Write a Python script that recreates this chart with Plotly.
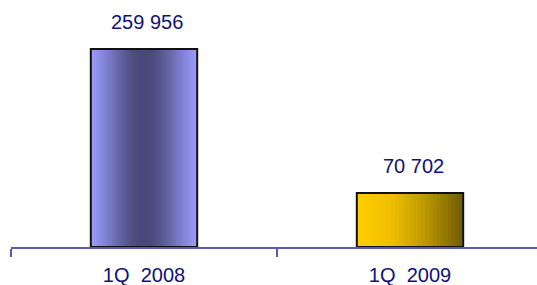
import plotly.graph_objects as go

# ---- data ----
categories = ["1Q 2008", "1Q 2009"]
tick_labels = ["1Q\u00a0\u00a02008", "1Q\u00a0\u00a02009"]
values = [259956, 70702]

# ---- styles ----
FONT = "Liberation Sans, Arial, sans-serif"
TEXT_COLOR = "#10107a"
AXIS_COLOR = "#5a5ab4"
BAR_W = 0.4
N_LAYERS = 28

xpos = list(range(len(categories)))


def hex2rgb(h):
    h = h.lstrip("#")
    return tuple(int(h[i:i + 2], 16) for i in (0, 2, 4))


def interp(stops, t):
    t = max(0.0, min(1.0, t))
    for (p0, c0), (p1, c1) in zip(stops, stops[1:]):
        if p0 <= t <= p1:
            u = 0 if p1 == p0 else (t - p0) / (p1 - p0)
            a, b = hex2rgb(c0), hex2rgb(c1)
            return "rgb(%d,%d,%d)" % tuple(round(a[i] + (b[i] - a[i]) * u) for i in range(3))
    return stops[-1][1]


# symmetric gradient (distance from centre: 0 centre, 1 edge)
grad_blue = [(0.0, "#47477a"), (0.2, "#4b4b7f"), (0.45, "#6262a2"),
             (0.75, "#8282d6"), (1.0, "#9a9cf8")]
# left-to-right gradient
grad_gold = [(0.0, "#ffcc00"), (0.3, "#f0c000"), (0.6, "#c09c00"),
             (0.85, "#8c7200"), (1.0, "#6a5a0c")]

fig = go.Figure()

for k in range(N_LAYERS):
    f = 1 - k / N_LAYERS
    widths = [BAR_W * f, BAR_W * f]
    offsets = [-BAR_W / 2 * f, BAR_W / 2 - BAR_W * f]
    colors = [interp(grad_blue, f), interp(grad_gold, 1 - f)]
    fig.add_trace(go.Bar(
        x=xpos, y=values, width=widths, offset=offsets,
        marker=dict(color=colors, line=dict(width=0)),
        hoverinfo="skip", showlegend=False,
    ))

# outline on top
fig.add_trace(go.Bar(
    x=xpos, y=values, width=BAR_W, offset=-BAR_W / 2,
    customdata=categories,
    hovertemplate="%{customdata}: %{y}<extra></extra>",
    marker=dict(color="rgba(0,0,0,0)", line=dict(color="#111111", width=2)),
    showlegend=False,
))

for xp, v in zip(xpos, values):
    fig.add_annotation(
        x=xp, y=v, text=f"{v:,}".replace(",", " "),
        showarrow=False, yanchor="bottom", yshift=14, xshift=3,
        font=dict(family=FONT, size=20, color=TEXT_COLOR),
    )

fig.update_layout(
    width=537, height=285,
    margin=dict(l=11, r=0, t=10, b=38),
    paper_bgcolor="white", plot_bgcolor="white",
    barmode="overlay",
    showlegend=False,
    xaxis=dict(
        type="linear",
        range=[-0.5, 1.5 - 6 / 266],
        tickmode="array", tickvals=xpos, ticktext=tick_labels,
        ticks="",
        minor=dict(tickmode="array", tickvals=[p - 0.5 for p in xpos],
                   ticks="outside", ticklen=8, tickwidth=2,
                   tickcolor=AXIS_COLOR, showgrid=False),
        showline=True, linecolor=AXIS_COLOR, linewidth=2,
        showgrid=False, zeroline=False,
        ticklabelstandoff=9, automargin=False,
        tickfont=dict(family=FONT, size=20, color=TEXT_COLOR),
    ),
    yaxis=dict(range=[0, 311000], visible=False, showgrid=False, zeroline=False),
)

fig.write_html(
    "out.html",
    config={"displayModeBar": False},
    post_script="document.body.style.margin='0';document.body.style.overflow='hidden';",
)
